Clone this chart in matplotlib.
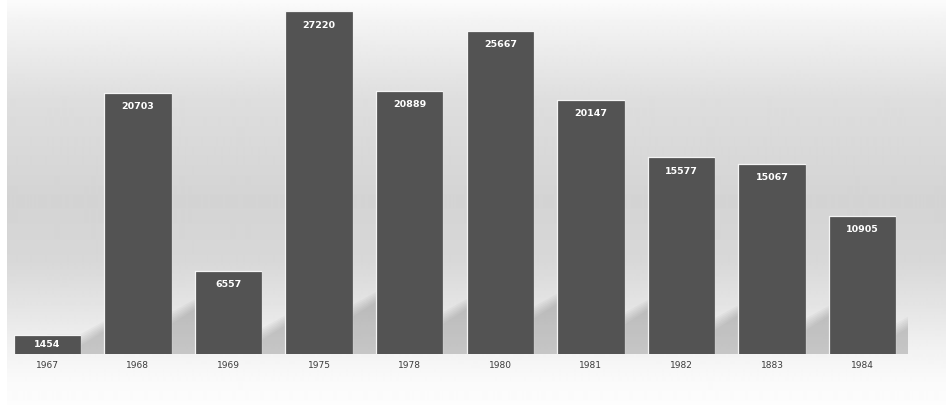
import numpy as np
import matplotlib
matplotlib.use('Agg')
import matplotlib.pyplot as plt
from matplotlib.patches import Polygon

# data
years = ['1967', '1968', '1969', '1975', '1978', '1980', '1981', '1982', '1883', '1984']
values = [1454, 20703, 6557, 27220, 20889, 25667, 20147, 15577, 15067, 10905]

W, H = 946, 405
fig = plt.figure(figsize=(W / 100, H / 100), dpi=100)
fig.patch.set_facecolor('white')

# background gradient (white top, gray middle, white bottom)
stops_y = [0, 25, 100, 200, 260, 310, 350, 380, 405]
stops_v = [0.985, 0.95, 0.87, 0.83, 0.845, 0.90, 0.95, 0.98, 0.99]
yy = np.arange(H)
grad = np.interp(yy, stops_y, stops_v)
bg = fig.add_axes([7 / W, 0, 1 - 7 / W, 1])
bg.imshow(np.repeat(grad[:, None], 2, axis=1), cmap='gray', vmin=0, vmax=1,
          aspect='auto', extent=[0, 1, 0, 1], interpolation='bilinear')
bg.set_axis_off()
bg.set_zorder(0)

# main axes: baseline at y=354px, 27220 at y=12px
base_px, top_px = 354, 12
ax_top = 4
px_per_val = (base_px - top_px) / max(values)
ymax = (base_px - ax_top) / px_per_val
ax = fig.add_axes([2 / W, (H - base_px) / H, 906 / W, (base_px - ax_top) / H])
ax.set_zorder(1)
ax.patch.set_alpha(0)
n = len(values)
ax.set_xlim(-0.5, n - 0.5)
ax.set_ylim(0, ymax)
ax.set_axis_off()

x = np.arange(n)
width = 0.72
px_per_bar = 906 / n
sx = 1 / px_per_bar
sy = 1 / px_per_val

# soft cast shadows behind the bars
for xi, v in zip(x, values):
    h_px = v * px_per_val
    xr = xi + width / 2
    for grow in [8, 6, 4, 2, 0, -2, -4]:
        d = (26 + grow * 0.3) * sx
        h0 = (0.09 * h_px + 10 + grow) * sy
        rise = 0.6 * 26 * sy
        pts = [(xi, 0), (xr + d, 0), (xr + d, h0 + rise), (xr, h0), (xi, h0)]
        ax.add_patch(Polygon(pts, closed=True, facecolor='#707070', edgecolor='none',
                             alpha=0.055, zorder=1, clip_on=True))

# bars with a thin light halo
ax.bar(x, values, width=width, color='#545454', edgecolor='#f4f4f4', linewidth=1.6, zorder=2)
ax.bar(x, values, width=width, color='#535353', edgecolor='#4a4a4a', linewidth=0.5, zorder=3)

for xi, v in zip(x, values):
    h_px = v * px_per_val
    off = min(13, h_px / 2)
    ax.text(xi, v - off * sy, str(v), ha='center', va='center', color='white',
            fontsize=6.8, fontweight='bold', zorder=4)
    ax.text(xi, -12 * sy, years[xi], ha='center', va='center', color='#3c3c3c',
            fontsize=6.5, zorder=4, clip_on=False)

plt.savefig('out.png', dpi=100)
